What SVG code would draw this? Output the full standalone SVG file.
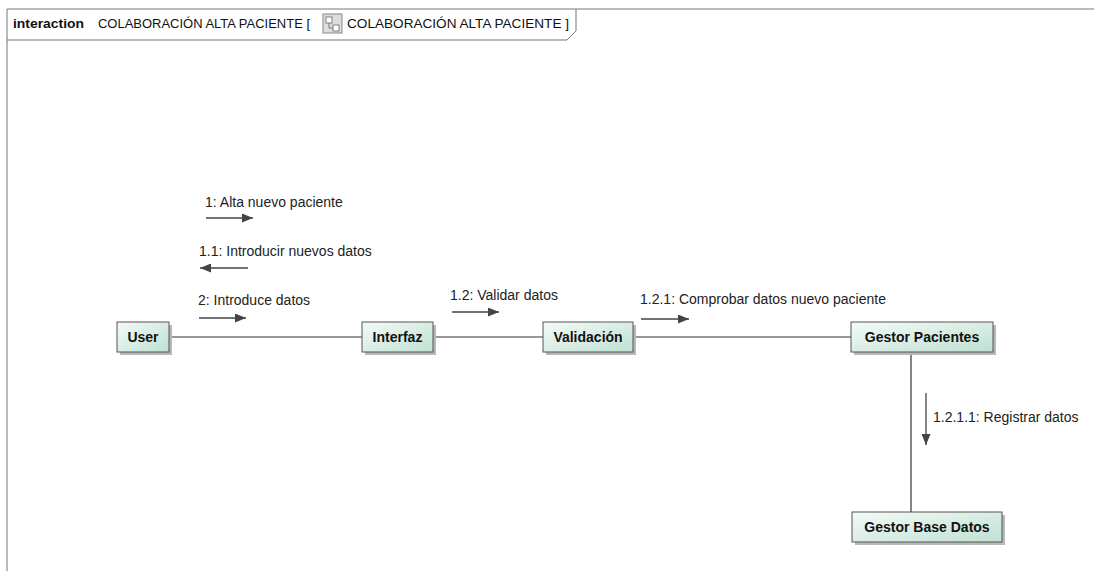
<svg xmlns="http://www.w3.org/2000/svg" width="1094" height="571" viewBox="0 0 1094 571">
<defs>
<linearGradient id="g" x1="0" y1="0" x2="1" y2="1">
<stop offset="0" stop-color="#f4fbf8"/>
<stop offset="1" stop-color="#bfe0d2"/>
</linearGradient>
<marker id="ah" markerWidth="11" markerHeight="9" refX="11" refY="4.5" orient="auto" markerUnits="userSpaceOnUse">
<path d="M0,0 L11,4.5 L0,9 Z" fill="#444"/>
</marker>
</defs>
<style>
.box{fill:url(#g);stroke:#555;stroke-width:1}
.sh{fill:#b8b8b8}
.nt{font-family:"Liberation Sans",Arial,sans-serif;font-weight:bold;font-size:14px;fill:#111;text-anchor:middle}
.lb{font-family:"Liberation Sans",Arial,sans-serif;font-size:14px;fill:#222}
.tt{font-family:"Liberation Sans",Arial,sans-serif;font-size:13px;fill:#111}
.ln{stroke:#333;stroke-width:1.2;fill:none}
.ar{stroke:#444;stroke-width:1.3;fill:none;marker-end:url(#ah)}
</style>
<rect width="1094" height="571" fill="#fff"/>
<g id="frame">
<path d="M7,571 L7,9 L1094,9" fill="none" stroke="#777" stroke-width="1"/>
<path d="M7,40 L567,40 L576,31 L576,9" fill="none" stroke="#777" stroke-width="1"/>
<text x="13" y="28" class="tt" font-weight="bold" font-size="14" textLength="71" lengthAdjust="spacingAndGlyphs">interaction</text>
<text x="98" y="28" class="tt" textLength="212" lengthAdjust="spacingAndGlyphs">COLABORACIÓN ALTA PACIENTE [</text>
<g id="icon">
<rect x="323" y="14" width="19" height="19" fill="#ddd" stroke="#888" stroke-width="1"/>
<rect x="326" y="17" width="6" height="6" fill="#fff" stroke="#666" stroke-width="0.8"/>
<rect x="333" y="25" width="6" height="6" fill="#fff" stroke="#666" stroke-width="0.8"/>
<path d="M329,23 L329,28 L333,28" fill="none" stroke="#666" stroke-width="0.8"/>
</g>
<text x="347" y="28" class="tt" textLength="222" lengthAdjust="spacingAndGlyphs">COLABORACIÓN ALTA PACIENTE ]</text>
</g>
<g id="connectors">
<line class="ln" x1="169" y1="337" x2="362" y2="337"/>
<line class="ln" x1="433" y1="337" x2="543" y2="337"/>
<line class="ln" x1="633" y1="337" x2="851" y2="337"/>
<line class="ln" x1="911" y1="352" x2="911" y2="512"/>
<line class="ar" x1="206" y1="218" x2="253" y2="218"/>
<line class="ar" x1="248" y1="268" x2="200" y2="268"/>
<line class="ar" x1="199" y1="318" x2="246" y2="318"/>
<line class="ar" x1="452" y1="312" x2="499" y2="312"/>
<line class="ar" x1="641" y1="319" x2="689" y2="319"/>
<line class="ar" x1="926" y1="393" x2="926" y2="445"/>
<text class="lb" x="205" y="207">1:  Alta nuevo paciente</text>
<text class="lb" x="199" y="256">1.1: Introducir nuevos datos</text>
<text class="lb" x="198" y="305">2: Introduce datos</text>
<text class="lb" x="450" y="300">1.2: Validar datos</text>
<text class="lb" x="640" y="304">1.2.1: Comprobar datos nuevo paciente</text>
<text class="lb" x="933" y="422">1.2.1.1: Registrar datos</text>
</g>
<g id="user">
<rect class="sh" x="120" y="325" width="52" height="30"/>
<rect class="box" x="117" y="322" width="52" height="30"/>
<text class="nt" x="143" y="342">User</text>
</g>
<g id="interfaz">
<rect class="sh" x="365" y="325" width="71" height="30"/>
<rect class="box" x="362" y="322" width="71" height="30"/>
<text class="nt" x="397.5" y="342">Interfaz</text>
</g>
<g id="validacion">
<rect class="sh" x="546" y="325" width="90" height="30"/>
<rect class="box" x="543" y="322" width="90" height="30"/>
<text class="nt" x="588" y="342">Validación</text>
</g>
<g id="gestor-pacientes">
<rect class="sh" x="854" y="325" width="142" height="30"/>
<rect class="box" x="851" y="322" width="142" height="30"/>
<text class="nt" x="922" y="342">Gestor Pacientes</text>
</g>
<g id="gestor-base-datos">
<rect class="sh" x="855" y="515" width="150" height="30"/>
<rect class="box" x="852" y="512" width="150" height="30"/>
<text class="nt" x="927" y="532">Gestor Base Datos</text>
</g>
</svg>
